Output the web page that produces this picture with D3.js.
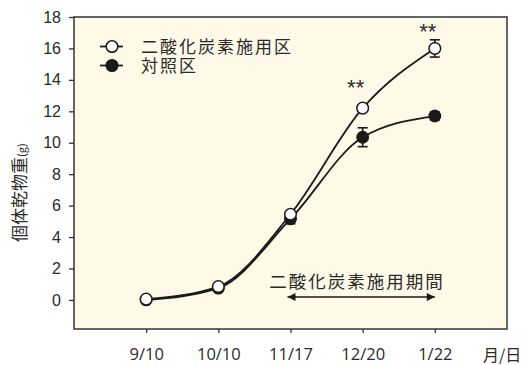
<!DOCTYPE html>
<html>
<head>
<meta charset="utf-8">
<script src="https://cdn.jsdelivr.net/npm/d3@7"></script>
<style>
  body { margin: 0; background: #fff; }
  text { fill: #2a2a2a; }
</style>
</head>
<body>
<svg width="528" height="365"></svg>
<script>
// data
const dates = ["9/10", "10/10", "11/17", "12/20", "1/22"];
const co2Mean = [0.05, 0.85, 5.45, 12.2, 16.0];
const co2Err = [0, 0.1, 0.15, 0.2, 0.55];
const ctrlMean = [0.0, 0.75, 5.15, 10.35, 11.7];
const ctrlErr = [0, 0.1, 0.3, 0.6, 0.25];
const yTicks = [0, 2, 4, 6, 8, 10, 12, 14, 16, 18];
const starAt = [3, 4]; // 12/20, 1/22

const plotL = 74, plotR = 507, plotT = 17, plotB = 329;

const svg = d3.select("svg");

// scales: dates sit on slots 1..5 of a 0..6 frame
const x = d3.scaleLinear().domain([0, 6]).range([plotL, plotR]);
const y = d3.scaleLinear().domain([-1.85, 18]).range([plotB, plotT]);

// plot background + frame
svg.append("rect")
    .attr("x", plotL).attr("y", plotT)
    .attr("width", plotR - plotL).attr("height", plotB - plotT)
    .attr("fill", "#fffae8")
    .attr("stroke", "#333").attr("stroke-width", 1.5);

// y axis
const yAxis = svg.append("g")
    .attr("transform", "translate(" + plotL + ",0)")
    .call(d3.axisLeft(y).tickValues(yTicks).tickSize(5).tickPadding(8));
yAxis.select(".domain").remove();
yAxis.selectAll("line").attr("stroke", "#333").attr("stroke-width", 1.3);
yAxis.selectAll("text")
    .attr("font-family", "Liberation Sans, Arial, sans-serif")
    .attr("font-size", 16)
    .attr("fill", "#2a2a2a");

// x axis
const xAxis = svg.append("g")
    .attr("transform", "translate(0," + plotB + ")")
    .call(d3.axisBottom(x).tickValues([1, 2, 3, 4, 5])
        .tickFormat((d) => dates[d - 1]).tickSize(4));
xAxis.select(".domain").remove();
xAxis.selectAll("line").attr("stroke", "#333").attr("stroke-width", 1.3);
xAxis.selectAll("text")
    .attr("y", 31).attr("dy", 0)
    .attr("font-family", "Open Sans, sans-serif")
    .attr("font-size", 16.5)
    .attr("fill", "#2a2a2a");

svg.append("text")
    .attr("x", 483).attr("y", 361)
    .attr("font-family", "Noto Sans CJK JP")
    .attr("font-size", 16)
    .text("月/日");

// y label, rotated
const yl = svg.append("text")
    .attr("transform", "translate(26,242) rotate(-90)")
    .attr("font-family", "Noto Sans CJK JP")
    .attr("font-size", 17);
yl.append("tspan").text("個体乾物重");
yl.append("tspan").attr("font-size", 11).text("(g)");

// curves
const line = d3.line()
    .x((d, i) => x(i + 1))
    .y((d) => y(d))
    .curve(d3.curveMonotoneX);

svg.append("path").datum(ctrlMean)
    .attr("d", line)
    .attr("fill", "none").attr("stroke", "#1a1a1a").attr("stroke-width", 1.8);
svg.append("path").datum(co2Mean)
    .attr("d", line)
    .attr("fill", "none").attr("stroke", "#1a1a1a").attr("stroke-width", 1.8);

// error bars
function errBars(mean, err) {
    const g = svg.append("g").attr("stroke", "#1a1a1a").attr("stroke-width", 1.6);
    mean.forEach((m, i) => {
        if (!err[i]) return;
        const cx = x(i + 1);
        g.append("line").attr("x1", cx).attr("x2", cx)
            .attr("y1", y(m - err[i])).attr("y2", y(m + err[i]));
        [m - err[i], m + err[i]].forEach((v) => {
            g.append("line").attr("x1", cx - 5).attr("x2", cx + 5)
                .attr("y1", y(v)).attr("y2", y(v));
        });
    });
}
errBars(ctrlMean, ctrlErr);
errBars(co2Mean, co2Err);

// markers
svg.append("g").selectAll("circle")
    .data(ctrlMean).join("circle")
    .attr("cx", (d, i) => x(i + 1)).attr("cy", (d) => y(d))
    .attr("r", 5.8)
    .attr("fill", "#1a1a1a").attr("stroke", "#1a1a1a").attr("stroke-width", 1.2);
svg.append("g").selectAll("circle")
    .data(co2Mean).join("circle")
    .attr("cx", (d, i) => x(i + 1)).attr("cy", (d) => y(d))
    .attr("r", 5.8)
    .attr("fill", "#fff").attr("stroke", "#1a1a1a").attr("stroke-width", 1.5);

// significance stars
svg.append("g").selectAll("text")
    .data(starAt).join("text")
    .attr("x", (i) => x(i + 1) - 7)
    .attr("y", (i) => y(co2Mean[i]) - 13 + (i === 4 ? 4 : 0))
    .attr("text-anchor", "middle")
    .attr("font-family", "Liberation Sans, Arial, sans-serif")
    .attr("font-size", 22)
    .text("**");

// legend
const legend = [
    { label: "二酸化炭素施用区", fill: "#fff", yy: 46.5 },
    { label: "対照区", fill: "#1a1a1a", yy: 65.5 }
];
const lg = svg.append("g");
legend.forEach((d) => {
    lg.append("line").attr("x1", 100).attr("x2", 123)
        .attr("y1", d.yy).attr("y2", d.yy)
        .attr("stroke", "#1a1a1a").attr("stroke-width", 1.8);
    lg.append("circle").attr("cx", 112).attr("cy", d.yy).attr("r", 5.8)
        .attr("fill", d.fill).attr("stroke", "#1a1a1a").attr("stroke-width", 1.5);
    lg.append("text").attr("x", 141).attr("y", d.yy + 6)
        .attr("font-family", "Noto Sans CJK JP")
        .attr("font-size", 17).attr("letter-spacing", 2)
        .text(d.label);
});

// application period arrow
const ay = 297;
svg.append("defs").append("marker")
    .attr("id", "ah").attr("viewBox", "0 0 10 10")
    .attr("refX", 10).attr("refY", 5)
    .attr("markerWidth", 10).attr("markerHeight", 8)
    .attr("markerUnits", "userSpaceOnUse")
    .attr("orient", "auto-start-reverse")
    .append("path").attr("d", "M0,0 L10,5 L0,10 Z").attr("fill", "#1a1a1a");
svg.append("line")
    .attr("x1", x(3) - 3).attr("x2", x(5))
    .attr("y1", ay).attr("y2", ay)
    .attr("stroke", "#1a1a1a").attr("stroke-width", 1.3)
    .attr("marker-start", "url(#ah)").attr("marker-end", "url(#ah)");
svg.append("text")
    .attr("x", 357).attr("y", 288)
    .attr("text-anchor", "middle")
    .attr("font-family", "Noto Sans CJK JP")
    .attr("font-size", 17.5).attr("letter-spacing", 2)
    .text("二酸化炭素施用期間");
</script>
</body>
</html>
